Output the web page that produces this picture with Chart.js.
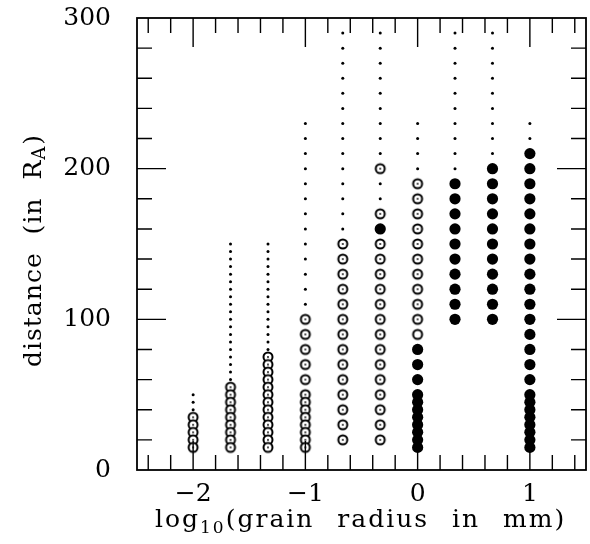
<!DOCTYPE html>
<html>
<head>
<meta charset="utf-8">
<script src="https://cdn.jsdelivr.net/npm/chart.js@4"></script>
<style>
  html, body { margin: 0; padding: 0; background: #fff; }
  canvas { display: block; }
</style>
</head>
<body>
<canvas id="c" width="590" height="544"></canvas>
<script>
// grain size columns (log10 of radius in mm) and what was plotted at each distance
const colX = [-2, -1.667, -1.333, -1, -0.667, -0.333, 0, 0.333, 0.667, 1];

// small dots
const dotsY = [
  [50, 45, 40],
  [150, 145, 140, 135, 130, 125, 120, 115, 110, 105, 100, 95, 90, 85, 80, 75, 70, 65, 60],
  [150, 145, 140, 135, 130, 125, 120, 115, 110, 105, 100, 95, 90, 85, 80],
  [230, 220, 210, 200, 190, 180, 170, 160, 150, 140, 130, 120, 110],
  [290, 280, 270, 260, 250, 240, 230, 220, 210, 200, 190, 180, 170, 160],
  [290, 280, 270, 260, 250, 240, 230, 220, 210, 190, 180],
  [230, 220, 210, 200],
  [290, 280, 270, 260, 250, 240, 230, 220, 210, 200],
  [290, 280, 270, 260, 250, 240, 230, 220, 210],
  [230, 220],
];

// open circles with a centre dot
const openY = [
  [35, 30, 25, 20, 15],
  [55, 50, 45, 40, 35, 30, 25, 20, 15],
  [75, 70, 65, 60, 55, 50, 45, 40, 35, 30, 25, 20, 15],
  [100, 90, 80, 70, 60, 50, 45, 40, 35, 30, 25, 20, 15],
  [150, 140, 130, 120, 110, 100, 90, 80, 70, 60, 50, 40, 30, 20],
  [200, 170, 150, 140, 130, 120, 110, 100, 90, 80, 70, 60, 50, 40, 30, 20],
  [190, 180, 170, 160, 150, 140, 130, 120, 110, 100],
  [], [], [],
];

// open circle without the centre dot
const plainY = [[], [], [], [], [], [], [90], [], [], []];

// filled circles
const filledY = [
  [], [], [], [], [],
  [160],
  [80, 70, 60, 50, 45, 40, 35, 30, 25, 20, 15],
  [190, 180, 170, 160, 150, 140, 130, 120, 110, 100],
  [200, 190, 180, 170, 160, 150, 140, 130, 120, 110, 100],
  [210, 200, 190, 180, 170, 160, 150, 140, 130, 120, 110, 100, 90, 80, 70, 60, 50, 45, 40, 35, 30, 25, 20, 15],
];

const xTickLabels = [-2, -1, 0, 1];
const yTickLabels = [0, 100, 200, 300];

const FONT = '"DejaVu Serif", "Liberation Serif", serif';
const INK = '#000';

const toPoints = lists => colX.flatMap((x, i) => lists[i].map(y => ({ x, y })));

function ring(withDot) {
  const c = document.createElement('canvas');
  c.width = c.height = 14;
  const g = c.getContext('2d');
  g.beginPath(); g.arc(7, 7, 4.5, 0, Math.PI * 2);
  g.fillStyle = '#fff'; g.fill();
  g.lineWidth = 2; g.strokeStyle = INK; g.stroke();
  if (withDot) {
    g.beginPath(); g.arc(7, 7, 0.9, 0, Math.PI * 2);
    g.fillStyle = INK; g.fill();
  }
  return c;
}

// box frame with inward ticks on all four sides
const frameTicks = {
  id: 'frameTicks',
  afterDatasetsDraw(chart) {
    const { ctx, chartArea: a, scales: { x, y } } = chart;
    ctx.save();
    ctx.strokeStyle = INK;
    ctx.lineWidth = 1.8;
    ctx.strokeRect(a.left, a.top, a.right - a.left, a.bottom - a.top);
    ctx.lineWidth = 1.4;
    ctx.beginPath();
    for (let v = -2.4; v < 1.45; v += 0.2) {
      const px = x.getPixelForValue(v);
      const len = Math.abs(v - Math.round(v)) < 1e-6 ? 29 : 15;
      ctx.moveTo(px, a.bottom); ctx.lineTo(px, a.bottom - len);
      ctx.moveTo(px, a.top); ctx.lineTo(px, a.top + len);
    }
    for (let v = 20; v < 300; v += 20) {
      const py = y.getPixelForValue(v);
      const len = v % 100 === 0 ? 29 : 15;
      ctx.moveTo(a.left, py); ctx.lineTo(a.left + len, py);
      ctx.moveTo(a.right, py); ctx.lineTo(a.right - len, py);
    }
    ctx.stroke();
    ctx.restore();
  },
};

// axis titles with subscripts, laid out left to right from a start point
function drawParts(ctx, parts, x0, baseY) {
  let px = x0;
  parts.forEach(p => {
    ctx.font = `${p.size}px ${FONT}`;
    ctx.fillText(p.text, px, baseY + (p.dy || 0));
    px += ctx.measureText(p.text).width + (p.gap || 0);
  });
}

const axisTitles = {
  id: 'axisTitles',
  afterDraw(chart) {
    const { ctx } = chart;
    ctx.save();
    ctx.fillStyle = INK;
    ctx.textBaseline = 'alphabetic';
    ctx.textAlign = 'left';
    ctx.letterSpacing = '2px';
    ctx.wordSpacing = '13px';
    drawParts(ctx, [
      { text: 'log', size: 25 },
      { text: '10', size: 17, dy: 6 },
      { text: '(grain radius in mm)', size: 25 },
    ], 155, 527);
    ctx.letterSpacing = '1px';
    ctx.wordSpacing = '9px';
    ctx.translate(41, 367);
    ctx.rotate(-Math.PI / 2);
    drawParts(ctx, [
      { text: 'distance (in R', size: 25 },
      { text: 'A', size: 18, dy: 4, gap: 1 },
      { text: ')', size: 25 },
    ], 0, 0);
    ctx.restore();
  },
};

const fmt = v => (v < 0 ? '\u2212' + Math.abs(v) : String(v));

new Chart(document.getElementById('c'), {
  type: 'scatter',
  data: {
    datasets: [
      { data: toPoints(dotsY), pointRadius: 1.5, pointBackgroundColor: INK, pointBorderWidth: 0 },
      { data: toPoints(openY), pointStyle: ring(true), pointRadius: 5 },
      { data: toPoints(plainY), pointStyle: ring(false), pointRadius: 5 },
      { data: toPoints(filledY), pointRadius: 5.6, pointBackgroundColor: INK, pointBorderColor: INK, pointBorderWidth: 0 },
    ],
  },
  options: {
    responsive: false,
    animation: false,
    events: [],
    layout: { autoPadding: false, padding: { top: 18, right: 4, left: 0, bottom: 0 } },
    plugins: { legend: { display: false }, tooltip: { enabled: false } },
    scales: {
      x: {
        type: 'linear', min: -2.5, max: 1.5,
        grid: { display: false }, border: { display: false },
        afterBuildTicks: s => { s.ticks = xTickLabels.map(v => ({ value: v })); },
        afterFit: s => { s.height = 74; s.paddingLeft = 0; s.paddingRight = 0; },
        ticks: { padding: 1, color: INK, font: { family: FONT, size: 25 }, maxRotation: 0, autoSkip: false, callback: fmt },
      },
      y: {
        type: 'linear', min: 0, max: 300,
        grid: { display: false }, border: { display: false },
        afterBuildTicks: s => { s.ticks = yTickLabels.map(v => ({ value: v })); },
        afterFit: s => { s.width = 137; s.paddingTop = 0; s.paddingBottom = 0; },
        ticks: { padding: 18, color: INK, font: { family: FONT, size: 25 }, autoSkip: false, callback: fmt },
      },
    },
  },
  plugins: [frameTicks, axisTitles],
});
</script>
</body>
</html>
